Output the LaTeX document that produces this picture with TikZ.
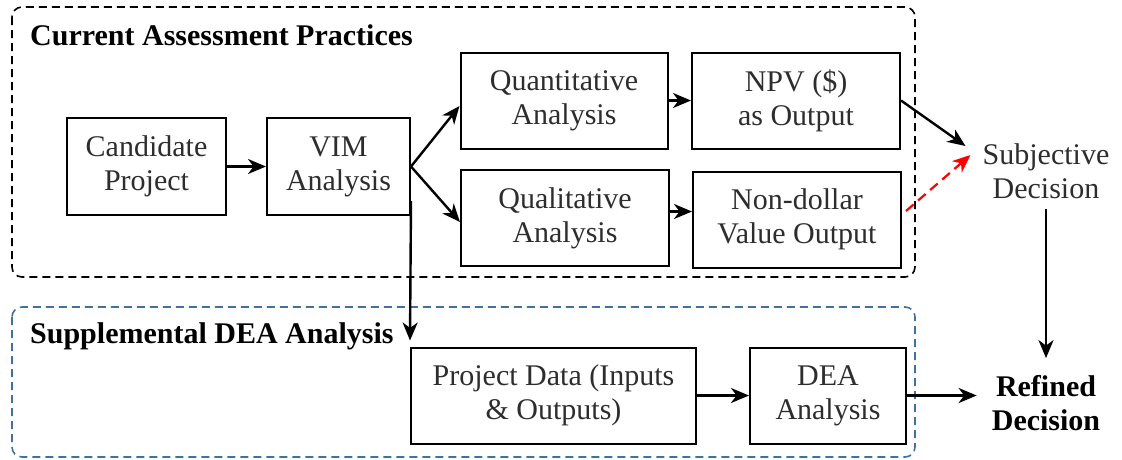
\documentclass[tikz,border=0pt]{standalone}
\usepackage{fontspec}
\setmainfont{Liberation Serif}
\usetikzlibrary{arrows.meta}
\definecolor{dblue}{RGB}{65,113,156}
\definecolor{txt}{RGB}{45,45,45}
\begin{document}
\begin{tikzpicture}[x=1pt,y=-1pt,
  box/.style={draw, line width=2pt, inner sep=0pt, align=center, text=txt,
    font=\fontsize{30}{34}\selectfont},
  lbl/.style={inner sep=0pt, align=center, font=\fontsize{30}{34}\selectfont},
  arr/.style={line width=2.4pt, -{Stealth[length=18pt,width=15pt,inset=5.5pt]}},
  grp/.style={line width=1.6pt, dash pattern=on 8pt off 5pt, rounded corners=10pt}]
\useasboundingbox (0,0) rectangle (1122,459);
% group frames
\draw[grp, black] (12,7) rectangle (915,277);
\draw[grp, dblue] (12,307) rectangle (915,457);
% titles
\node[anchor=base west, inner sep=0pt, font=\bfseries\fontsize{30}{34}\selectfont] (t1) at (30,45) {Current Assessment Practices};
\node[anchor=base west, inner sep=0pt, font=\bfseries\fontsize{30}{34}\selectfont] (t2) at (30,343) {Supplemental DEA Analysis};
% boxes
\node[box, minimum width=159pt, minimum height=97pt] (cand) at (146.5,166.5) {Candidate\\Project};
\node[box, minimum width=143pt, minimum height=97pt] (vim) at (338.5,166.5) {VIM\\Analysis};
\node[box, minimum width=207pt, minimum height=96pt] (quant) at (564,100.5) {Quantitative\\Analysis};
\node[box, minimum width=208pt, minimum height=96pt] (npv) at (796,100.5) {NPV (\$)\\as Output};
\node[box, minimum width=208pt, minimum height=96pt] (qual) at (565,218) {Qualitative\\Analysis};
\node[box, minimum width=208pt, minimum height=96pt] (nond) at (797,219.5) {Non-dollar\\Value Output};
\node[box, minimum width=285pt, minimum height=96pt] (pd) at (553.5,395.5) {Project Data (Inputs\\\& Outputs)};
\node[box, minimum width=156pt, minimum height=96pt] (dea) at (828,395.5) {DEA\\Analysis};
% decisions
\node[lbl, text=txt] (subj) at (1046,171) {Subjective\\Decision};
\node[lbl, font=\bfseries\fontsize{30}{34}\selectfont] (ref) at (1046,403) {Refined\\Decision};
% helper points
\coordinate (q1) at ([yshift=6.5pt]qual.east);
\coordinate (r1) at ([xshift=-15pt]ref.west);
% connectors
\draw[arr] (cand.east) -- (vim.west);
\draw[arr] (vim.east) -- ([yshift=-5.5pt]quant.west);
\draw[arr] (vim.east) -- ([yshift=-4pt]qual.west);
\draw[arr] (quant.east) -- (npv.west);
\draw[arr] (q1) -- (q1 -| nond.west);
\draw[arr] (npv.east) -- ([xshift=-17pt,yshift=25pt]subj.west);
\draw[arr, red, line width=2.2pt, dash pattern=on 10pt off 6pt] ([xshift=4pt,yshift=8.5pt]nond.east) -- ([xshift=-12pt,yshift=16pt]subj.west);
\draw[arr] ([yshift=15pt]vim.south east) -- ([yshift=6pt]pd.north west);
\draw[arr] (pd.east) -- (dea.west);
\draw[arr] ([yshift=-10pt]subj.south) -- ([yshift=17pt]ref.north);
\draw[arr] (dea.east) -- (dea.east -| r1);
\end{tikzpicture}
\end{document}
